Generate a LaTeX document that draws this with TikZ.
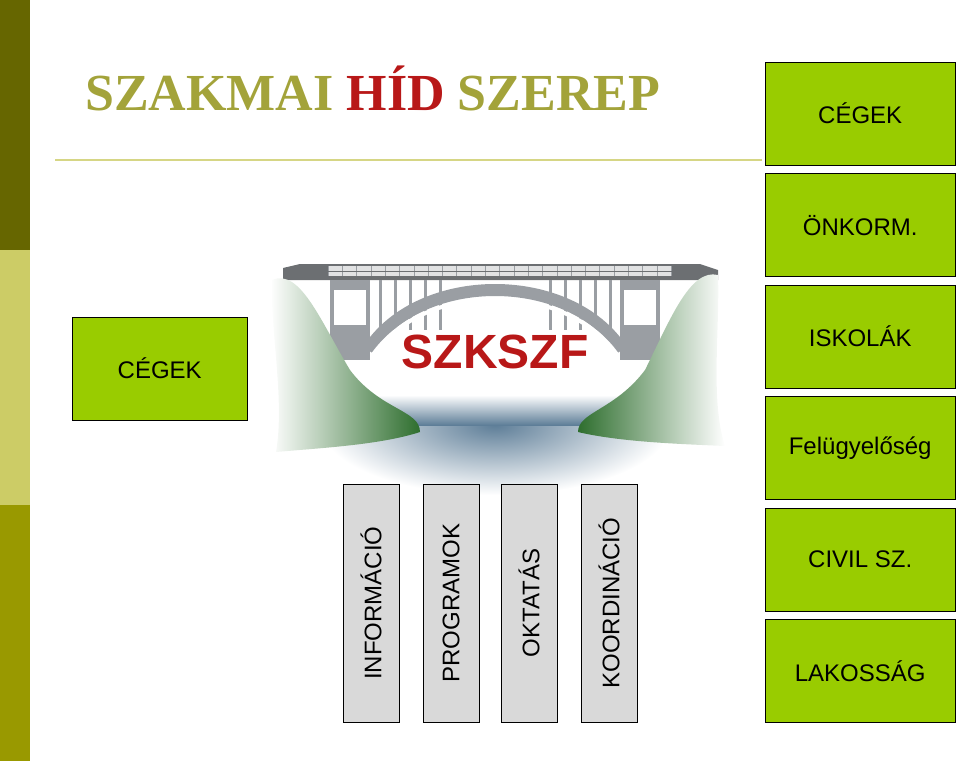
\documentclass[tikz,border=0pt]{standalone}
\usepackage{fontspec}
\setmainfont{Liberation Serif}
\setsansfont{Liberation Sans}
\usetikzlibrary{positioning}
\definecolor{olive1}{HTML}{666600}
\definecolor{olive2}{HTML}{CCCC66}
\definecolor{olive3}{HTML}{999900}
\definecolor{titlecol}{HTML}{A3A33A}
\definecolor{hidred}{HTML}{B81818}
\definecolor{boxgreen}{HTML}{99CC00}
\definecolor{boxgrey}{HTML}{D9D9D9}
\definecolor{water}{HTML}{5E7E98}
\definecolor{hill}{HTML}{2E6E2E}
\definecolor{steel}{HTML}{9A9EA3}
\tikzset{
  partner/.style={draw=black,fill=boxgreen,minimum width=190pt,minimum height=103pt,
    font=\sffamily\fontsize{24}{28}\selectfont,inner sep=0pt},
  task/.style={draw=black,fill=boxgrey,minimum width=238pt,minimum height=56pt,rotate=90,
    font=\sffamily\fontsize{24}{28}\selectfont,inner sep=0pt},
}
\begin{document}
\begin{tikzpicture}[x=1pt,y=-1pt]
\useasboundingbox (0,0) rectangle (960,761);
% side bar
\fill[olive1] (0,0) rectangle (30,250);
\fill[olive2] (0,250) rectangle (30,505);
\fill[olive3] (0,505) rectangle (30,761);
% title
\node[anchor=base west,font=\bfseries\fontsize{52}{60}\selectfont,inner sep=0pt] (title) at (85,110)
  {\textcolor{titlecol}{SZAKMAI} \textcolor{hidred}{HÍD} \textcolor{titlecol}{SZEREP}};
\draw[olive2!80!white,line width=2pt] (55,160) -- (762,160);
% water
\shade[inner color=water,outer color=white] (495,425) ellipse (175 and 70);
\fill[white] (360,300) rectangle (630,405);
\shade[top color=white,bottom color=water] (360,395) rectangle (630,425);
% bridge deck
\fill[steel!70!black] (283,268) -- (300,264) -- (700,264) -- (718,270) -- (718,280) -- (283,280) -- cycle;
\fill[steel!30!white] (328,266) rectangle (672,276);
\foreach \i [evaluate=\i as \xx using 328+\i*14.3] in {0,...,24}
  \draw[steel,line width=0.6pt] (\xx,266) -- (\xx,276);
\draw[steel!70!black] (328,271) -- (672,271);
% piers
\fill[steel] (330,280) rectangle (370,360);
\fill[steel] (620,280) rectangle (660,360);
\fill[white] (334,290) rectangle (366,325);
\fill[white] (624,290) rectangle (656,325);
\foreach \x in {380,395,410,425,440,550,565,580,595,610}
  \draw[steel,line width=3pt] (\x,280) -- (\x,330);
% arch
\draw[steel,line width=12pt] (368,350) .. controls (420,270) and (570,270) .. (622,350);
\draw[white,line width=4pt] (372,356) .. controls (424,280) and (566,280) .. (618,356);
\node[font=\sffamily\bfseries\fontsize{48}{52}\selectfont,text=hidred] (logo) at (495,352) {SZKSZF};
% hills
\shade[left color=white,right color=hill] (272,280) .. controls (300,268) and (320,320) .. (350,370)
  .. controls (380,410) and (420,410) .. (420,432) .. controls (380,445) and (320,448) .. (276,452)
  .. controls (285,400) and (270,330) .. cycle;
\shade[right color=white,left color=hill] (718,275) .. controls (690,268) and (670,320) .. (645,370)
  .. controls (615,410) and (578,412) .. (578,432) .. controls (620,442) and (680,444) .. (725,446)
  .. controls (710,400) and (720,330) .. cycle;
% partner boxes
\node[partner,anchor=north west] (cegek) at (765,62) {CÉGEK};
\node[partner,below=8pt of cegek] (onk) {ÖNKORM.};
\node[partner,below=8pt of onk] (isk) {ISKOLÁK};
\node[partner,below=8pt of isk] (felu) {Felügyelőség};
\node[partner,below=8pt of felu] (civil) {CIVIL SZ.};
\node[partner,below=8pt of civil] (lak) {LAKOSSÁG};
\node[partner,minimum width=175pt,anchor=north west] (cegek2) at (72,317) {CÉGEK};
% task boxes
\node[task] (info) at (371,603) {INFORMÁCIÓ};
\node[task] (prog) at (451,603) {PROGRAMOK};
\node[task] (okt) at (529,603) {OKTATÁS};
\node[task] (koord) at (609,603) {KOORDINÁCIÓ};
\end{tikzpicture}
\end{document}
